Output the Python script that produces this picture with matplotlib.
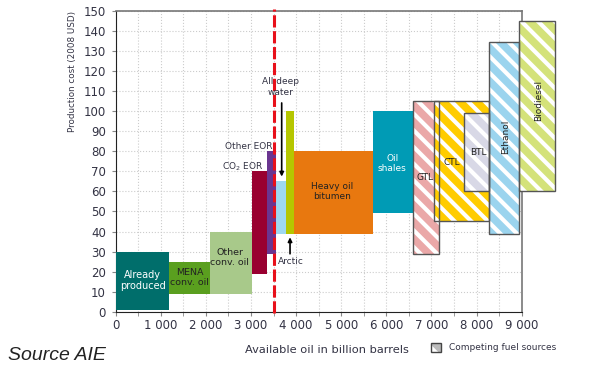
import matplotlib.pyplot as plt
from matplotlib.patches import Rectangle
from matplotlib.ticker import FuncFormatter

plt.rcParams['hatch.linewidth'] = 3.0

# oil supply blocks: x start, x end (billion barrels), cost low, cost high (2008 USD)
names = ["Already produced", "MENA conv. oil", "Other conv. oil", "CO2 EOR", "Other EOR",
         "All deep water", "Arctic", "Heavy oil bitumen", "Oil shales"]
x0 = [0, 1190, 2080, 3030, 3350, 3550, 3780, 3950, 5700]
x1 = [1190, 2080, 3030, 3350, 3550, 3780, 3950, 5700, 6580]
lo = [1, 9, 9, 19, 29, 39, 39, 39, 49]
hi = [30, 25, 40, 70, 80, 65, 100, 80, 100]
colors = ["#006e6b", "#5a9f1f", "#a8c98a", "#990030", "#6a3590",
          "#9ed8f0", "#b5c600", "#e8780f", "#009bb5"]

# competing fuel sources (hatched)
fuels = ["GTL", "CTL", "BTL", "Ethanol", "Biodiesel"]
f_x0 = [6580, 7060, 7730, 8280, 8950]
f_x1 = [7175, 8280, 8280, 8950, 9740]
f_lo = [29, 45, 60, 39, 60]
f_hi = [105, 105, 99, 134.5, 145]
f_colors = ["#eaa8a8", "#ffcc00", "#d8d8e6", "#9bd4ee", "#d4e27a"]

limit_x = 3510  # red dashed line

txt = "#333344"

fig = plt.figure(figsize=(5.97, 3.65), dpi=100)
ax = fig.add_axes([0.1938, 0.146, 0.680, 0.824])

for a, b, l, h, c in zip(x0, x1, lo, hi, colors):
    ax.add_patch(Rectangle((a, l), b - a, h - l, facecolor=c, edgecolor='none', zorder=3))

for a, b, l, h, c in zip(f_x0, f_x1, f_lo, f_hi, f_colors):
    ax.add_patch(Rectangle((a, l), b - a, h - l, facecolor=c, edgecolor='white',
                           hatch='\\\\', linewidth=0, zorder=3, clip_on=False))
    ax.add_patch(Rectangle((a, l), b - a, h - l, fill=False, edgecolor='#555555',
                           linewidth=1.0, zorder=4, clip_on=False))

ax.plot([limit_x, limit_x], [-0.5, 151], color='#e8101a', linestyle=(0, (4, 1.2)),
        linewidth=2.2, zorder=5, clip_on=False)

ax.set_xlim(0, 9000)
ax.set_ylim(0, 150)
ax.set_xticks(range(0, 9001, 1000))
ax.set_xticks(range(500, 9000, 1000), minor=True)
ax.set_yticks(range(0, 151, 10))
ax.xaxis.set_major_formatter(FuncFormatter(lambda v, p: f"{int(v):,}".replace(",", " ")))
ax.grid(True, which='both', color='#cccccc', linestyle=':', linewidth=0.8, zorder=0)
ax.tick_params(which='both', length=3, color='#888888', labelsize=8.5, labelcolor=txt, pad=2)
ax.tick_params(axis='y', pad=4)
for s in ['left', 'bottom']:
    ax.spines[s].set_color('#222222')
for s in ['top', 'right']:
    ax.spines[s].set_color('#777777')
    ax.spines[s].set_linewidth(1.2)

ax.set_ylabel("Production cost (2008 USD)", fontsize=6.3, color=txt)
ax.yaxis.set_label_coords(-0.096, 0.80)
ax.set_xlabel("Available oil in billion barrels", fontsize=8.2, color=txt)
ax.xaxis.set_label_coords(0.52, -0.112)

fs = 6.5
ax.text(600, 15.5, "Already\nproduced", color='white', fontsize=7, ha='center', va='center', zorder=6)
ax.text(1635, 17, "MENA\nconv. oil", color='#222222', fontsize=6.8, ha='center', va='center', zorder=6)
ax.text(2530, 27, "Other\nconv. oil", color='#222222', fontsize=6.8, ha='center', va='center', zorder=6)
ax.text(2820, 72.5, "CO$_2$ EOR", color=txt, fontsize=fs, ha='center', va='center', zorder=6)
ax.text(2940, 82.5, "Other EOR", color=txt, fontsize=fs, ha='center', va='center', zorder=6)
ax.text(3650, 112, "All deep\nwater", color=txt, fontsize=fs, ha='center', va='center',
        linespacing=1.2, zorder=6)
ax.annotate("", xy=(3680, 66), xytext=(3680, 105.5),
            arrowprops=dict(arrowstyle='-|>', color='black', lw=1.2, mutation_scale=6), zorder=6)
ax.text(3880, 25, "Arctic", color=txt, fontsize=fs, ha='center', va='center', zorder=6)
ax.annotate("", xy=(3865, 38.5), xytext=(3865, 27.5),
            arrowprops=dict(arrowstyle='-|>', color='black', lw=1.2, mutation_scale=6), zorder=6)
ax.text(4800, 60, "Heavy oil\nbitumen", color='#222222', fontsize=fs, ha='center', va='center', zorder=6)
ax.text(6130, 74, "Oil\nshales", color='white', fontsize=fs, ha='center', va='center', zorder=6)
ax.text(6860, 67, "GTL", color='#222222', fontsize=fs, ha='center', va='center', zorder=6)
ax.text(7450, 74.5, "CTL", color='#222222', fontsize=fs, ha='center', va='center', zorder=6)
ax.text(8030, 79.5, "BTL", color='#222222', fontsize=fs, ha='center', va='center', zorder=6)
ax.text(8650, 87, "Ethanol", color='#222222', fontsize=fs, ha='center', va='center',
        rotation=90, zorder=6)
ax.text(9370, 105.5, "Biodiesel", color='#222222', fontsize=fs, ha='center', va='center',
        rotation=90, zorder=6, clip_on=False)

# legend for hatched sources
fig.patches.append(Rectangle((431 / 597, 1 - 352 / 365), 10 / 597, 9 / 365, transform=fig.transFigure,
                             facecolor='#bbbbbb', edgecolor='white', hatch='\\\\', linewidth=0))
fig.patches.append(Rectangle((431 / 597, 1 - 352 / 365), 10 / 597, 9 / 365, transform=fig.transFigure,
                             fill=False, edgecolor='#444444', linewidth=1.0))
fig.text(449 / 597, 1 - 348 / 365, "Competing fuel sources", fontsize=6.5, color=txt, va='center')

fig.text(8 / 597, 1 - 355 / 365, "Source AIE", fontsize=14, style='italic', color='#222222',
         family='Liberation Sans', va='center')

fig.savefig("out.png", dpi=100)
